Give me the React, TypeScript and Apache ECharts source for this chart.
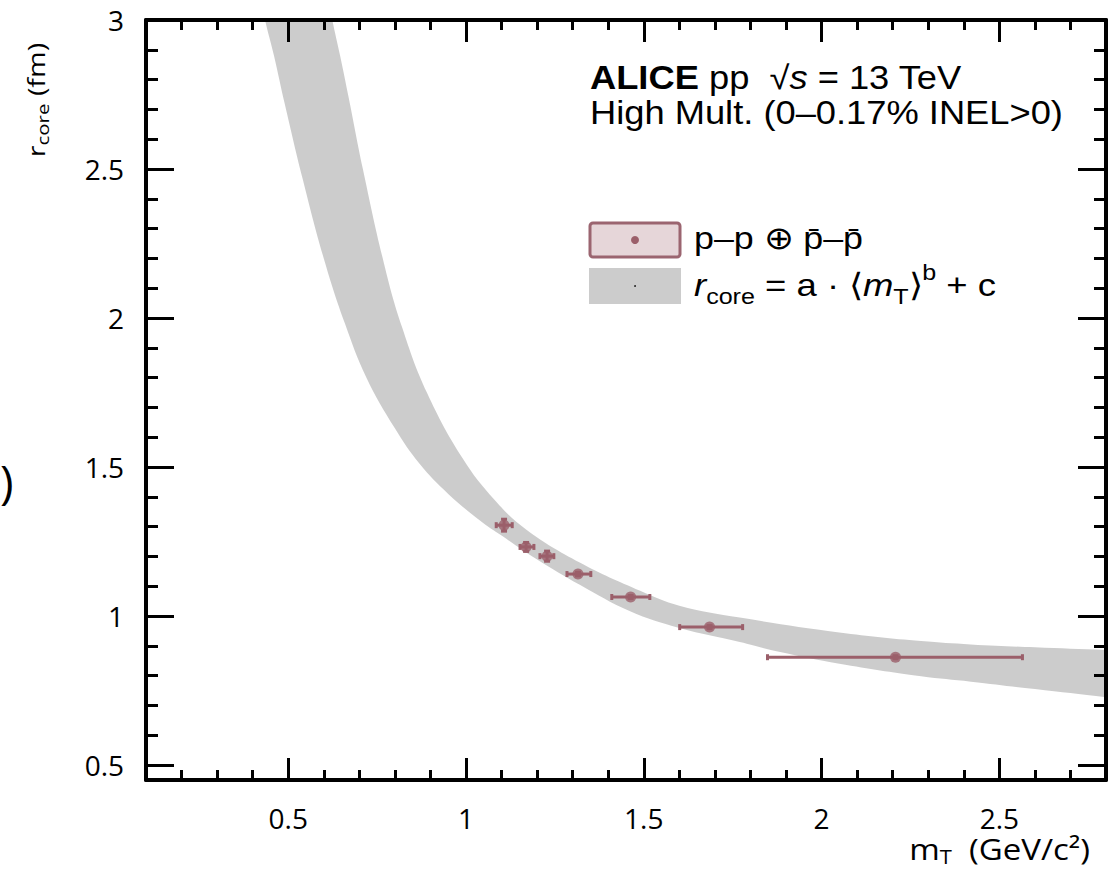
import React, { useEffect, useRef } from "react";
import * as echarts from "echarts";

// ---- axis ticks ----
const xMajorTicks = [0.5, 1, 1.5, 2, 2.5];
const xMinorTicks = [0.2, 0.3, 0.4, 0.6, 0.7, 0.8, 0.9, 1.1, 1.2, 1.3, 1.4, 1.6, 1.7, 1.8, 1.9, 2.1, 2.2, 2.3, 2.4, 2.6, 2.7];
const yMajorTicks = [0.5, 1, 1.5, 2, 2.5, 3];
const yMinorTicks = [0.6, 0.7, 0.8, 0.9, 1.1, 1.2, 1.3, 1.4, 1.6, 1.7, 1.8, 1.9, 2.1, 2.2, 2.3, 2.4, 2.6, 2.7, 2.8, 2.9];

// ---- data points p-p (+) pbar-pbar ----
const mT = [1.107, 1.169, 1.228, 1.315, 1.463, 1.685, 2.208];
const mTLow = [1.085, 1.152, 1.208, 1.284, 1.41, 1.601, 1.848];
const mTHigh = [1.13, 1.191, 1.247, 1.351, 1.517, 1.778, 2.565];
const rCore = [1.305, 1.232, 1.201, 1.141, 1.064, 0.963, 0.862];
const rErr = [0.02, 0.015, 0.017, 0.006, 0.005, 0.005, 0.005];

// ---- fit band edges (ends lie outside the frame) ----
const bandUpperX = [0.6, 0.624, 0.646, 0.67, 0.71, 0.77, 0.82, 0.89, 0.99, 1.08, 1.17, 1.32, 1.49, 1.6, 1.77, 2.05, 2.28, 2.42, 2.6, 2.8, 2.95];
const bandUpperY = [3.15, 3.0, 2.88, 2.74, 2.5, 2.18, 1.97, 1.75, 1.53, 1.39, 1.29, 1.18, 1.085, 1.035, 0.995, 0.945, 0.916, 0.905, 0.895, 0.886, 0.88];
const bandLowerX = [0.42, 0.43, 0.46, 0.49, 0.54, 0.6, 0.66, 0.72, 0.8, 0.87, 0.95, 1.04, 1.1, 1.2, 1.32, 1.46, 1.6, 1.77, 1.88, 2.05, 2.28, 2.42, 2.6, 2.8, 2.95];
const bandLowerY = [3.15, 3.03, 2.88, 2.72, 2.47, 2.2, 1.98, 1.8, 1.63, 1.51, 1.41, 1.32, 1.27, 1.19, 1.105, 1.017, 0.96, 0.913, 0.88, 0.84, 0.798, 0.78, 0.755, 0.728, 0.71];

const X_MIN = 0.1;
const X_MAX = 2.8;
const Y_MIN = 0.45;
const Y_MAX = 3;

const POINT_COLOR = "#9b5f6a";
const LABEL_FONT = "'Open Sans', sans-serif";
const TICK_FONT = "'Liberation Sans Narrow', 'Open Sans', sans-serif";
const TEXT_FONT = "'Liberation Sans', Arial, sans-serif";
const TICK_FONT_SIZE = 28;

function xAxisDef(position: string, ticks: number[], len: number, showLine: boolean, showLabels: boolean) {
  return {
    type: "value",
    position,
    min: X_MIN,
    max: X_MAX,
    splitLine: { show: false },
    axisLine: { show: showLine, onZero: false, lineStyle: { color: "#000", width: 4 } },
    axisTick: { show: true, inside: true, length: len, customValues: ticks, lineStyle: { color: "#000", width: 3 } },
    axisLabel: showLabels
      ? { show: true, customValues: ticks, fontSize: TICK_FONT_SIZE, color: "#000", fontFamily: TICK_FONT, margin: 24 }
      : { show: false },
  };
}

function yAxisDef(position: string, ticks: number[], len: number, showLine: boolean, showLabels: boolean) {
  return {
    type: "value",
    position,
    min: Y_MIN,
    max: Y_MAX,
    splitLine: { show: false },
    axisLine: { show: showLine, onZero: false, lineStyle: { color: "#000", width: 4 } },
    axisTick: { show: true, inside: true, length: len, customValues: ticks, lineStyle: { color: "#000", width: 3 } },
    axisLabel: showLabels
      ? { show: true, customValues: ticks, fontSize: TICK_FONT_SIZE, color: "#000", fontFamily: TICK_FONT, margin: 22 }
      : { show: false },
  };
}

export default function App() {
  const ref = useRef<HTMLDivElement>(null);

  useEffect(() => {
    if (!ref.current) return;
    const chart = echarts.init(ref.current, null, { renderer: "svg" });

    const pointData = mT.map((x, i) => [x, rCore[i], mTLow[i], mTHigh[i], rErr[i]]);

    const option = {
      animation: false,
      backgroundColor: "#fff",
      grid: { left: 146, right: 14, top: 20, bottom: 92, containLabel: false },
      xAxis: [
        xAxisDef("bottom", xMinorTicks, 10, true, false),
        xAxisDef("bottom", xMajorTicks, 22, false, true),
        xAxisDef("top", xMinorTicks, 10, true, false),
        xAxisDef("top", xMajorTicks, 22, false, false),
      ],
      yAxis: [
        yAxisDef("left", yMinorTicks, 12, true, false),
        yAxisDef("left", yMajorTicks, 28, false, true),
        yAxisDef("right", yMinorTicks, 12, true, false),
        yAxisDef("right", yMajorTicks, 28, false, false),
      ],
      series: [
        {
          type: "custom",
          name: "fit band",
          xAxisIndex: 0,
          yAxisIndex: 0,
          clip: true,
          silent: true,
          data: [[1, 1]],
          z: 1,
          renderItem: (params: any, api: any) => {
            const pts: number[][] = [];
            for (let i = 0; i < bandUpperX.length; i++) pts.push(api.coord([bandUpperX[i], bandUpperY[i]]));
            for (let i = bandLowerX.length - 1; i >= 0; i--) pts.push(api.coord([bandLowerX[i], bandLowerY[i]]));
            return {
              type: "polygon",
              shape: { points: pts, smooth: 0.4 },
              style: { fill: "rgba(0,0,0,0.2)", stroke: "none" },
            };
          },
        },
        {
          type: "custom",
          name: "errors",
          xAxisIndex: 0,
          yAxisIndex: 0,
          clip: true,
          silent: true,
          data: pointData,
          encode: { x: 0, y: 1 },
          z: 3,
          renderItem: (params: any, api: any) => {
            const x = api.value(0);
            const y = api.value(1);
            const lo = api.value(2);
            const hi = api.value(3);
            const e = api.value(4);
            const pL = api.coord([lo, y]);
            const pH = api.coord([hi, y]);
            const pB = api.coord([x, y - e]);
            const pT = api.coord([x, y + e]);
            const st = { stroke: POINT_COLOR, lineWidth: 3 };
            const cap = 3;
            return {
              type: "group",
              children: [
                { type: "line", shape: { x1: pL[0], y1: pL[1], x2: pH[0], y2: pH[1] }, style: st },
                { type: "line", shape: { x1: pL[0], y1: pL[1] - cap, x2: pL[0], y2: pL[1] + cap }, style: st },
                { type: "line", shape: { x1: pH[0], y1: pH[1] - cap, x2: pH[0], y2: pH[1] + cap }, style: st },
                { type: "line", shape: { x1: pB[0], y1: pB[1], x2: pT[0], y2: pT[1] }, style: st },
                { type: "line", shape: { x1: pB[0] - cap, y1: pB[1], x2: pB[0] + cap, y2: pB[1] }, style: st },
                { type: "line", shape: { x1: pT[0] - cap, y1: pT[1], x2: pT[0] + cap, y2: pT[1] }, style: st },
              ],
            };
          },
        },
        {
          type: "scatter",
          name: "p–p ⊕ p̄–p̄",
          xAxisIndex: 0,
          yAxisIndex: 0,
          data: mT.map((x, i) => [x, rCore[i]]),
          symbol: "circle",
          symbolSize: 11,
          itemStyle: { color: POINT_COLOR },
          z: 4,
        },
      ],
      graphic: [
        {
          type: "text",
          x: 590,
          y: 78,
          scaleX: 1.1,
          style: {
            text: "{b|ALICE}{n| pp  √}{i|s}{n| = 13 TeV}",
            verticalAlign: "middle",
            align: "left",
            rich: {
              b: { fontFamily: TEXT_FONT, fontSize: 33, fontWeight: "bold", fill: "#000" },
              n: { fontFamily: TEXT_FONT, fontSize: 33, fill: "#000" },
              i: { fontFamily: TEXT_FONT, fontSize: 33, fontStyle: "italic", fill: "#000" },
            },
          },
        },
        {
          type: "text",
          x: 590,
          y: 113,
          scaleX: 1.1,
          style: {
            text: "High Mult. (0–0.17% INEL>0)",
            fontFamily: TEXT_FONT,
            fontSize: 33,
            fill: "#000",
            verticalAlign: "middle",
            align: "left",
          },
        },
        {
          type: "rect",
          shape: { x: 590, y: 223, width: 90, height: 34, r: 3 },
          style: { fill: "#e6d6d9", stroke: "#9b6570", lineWidth: 3 },
        },
        { type: "circle", shape: { cx: 635, cy: 240, r: 4 }, style: { fill: POINT_COLOR } },
        {
          type: "text",
          x: 694,
          y: 238,
          scaleX: 1.12,
          style: {
            text: "p–p ⊕ p̄–p̄",
            fontFamily: TEXT_FONT,
            fontSize: 32,
            fill: "#000",
            verticalAlign: "middle",
            align: "left",
          },
        },
        {
          type: "rect",
          shape: { x: 589, y: 268, width: 92, height: 36 },
          style: { fill: "#cccccc" },
        },
        { type: "circle", shape: { cx: 635, cy: 286, r: 0.8 }, style: { fill: "#000" } },
        {
          type: "text",
          x: 694,
          y: 285,
          scaleX: 1.14,
          style: {
            text: "{i|r}{sub|core}{n| = a · ⟨}{i|m}{sub|T}{n|⟩}{sup|b}{n| + c}",
            verticalAlign: "middle",
            align: "left",
            rich: {
              n: { fontFamily: TEXT_FONT, fontSize: 32, fill: "#000", lineHeight: 46, verticalAlign: "middle" },
              i: { fontFamily: TEXT_FONT, fontSize: 32, fontStyle: "italic", fill: "#000", lineHeight: 46, verticalAlign: "middle" },
              sub: { fontFamily: TEXT_FONT, fontSize: 22, fill: "#000", lineHeight: 22, verticalAlign: "bottom" },
              sup: { fontFamily: TEXT_FONT, fontSize: 22, fill: "#000", lineHeight: 22, verticalAlign: "top" },
            },
          },
        },
        {
          type: "text",
          x: 36,
          y: 100,
          rotation: Math.PI / 2,
          scaleX: 1.2,
          style: {
            text: "{a|r}{s|core}{a| (fm)}",
            align: "center",
            verticalAlign: "middle",
            rich: {
              a: { fontFamily: LABEL_FONT, fontSize: 24, fill: "#000", lineHeight: 30, verticalAlign: "middle" },
              s: { fontFamily: LABEL_FONT, fontSize: 17, fill: "#000", lineHeight: 17, verticalAlign: "bottom" },
            },
          },
        },
        {
          type: "text",
          x: 1090,
          y: 848,
          scaleX: 1.1,
          style: {
            text: "{a|m}{s|T}{a|  (GeV/c²)}",
            align: "right",
            verticalAlign: "middle",
            rich: {
              a: { fontFamily: LABEL_FONT, fontSize: 30, fill: "#000", lineHeight: 36, verticalAlign: "middle" },
              s: { fontFamily: LABEL_FONT, fontSize: 20, fill: "#000", lineHeight: 20, verticalAlign: "bottom" },
            },
          },
        },
        {
          type: "text",
          x: 0,
          y: 481,
          style: {
            text: ")",
            fontFamily: LABEL_FONT,
            fontSize: 46,
            fill: "#000",
            align: "left",
            verticalAlign: "middle",
          },
        },
      ],
    };

    chart.setOption(option as any);
    return () => chart.dispose();
  }, []);

  return (
    <div
      ref={ref}
      style={{ position: "absolute", left: 0, top: 0, width: 1120, height: 872, background: "#fff" }}
    />
  );
}
